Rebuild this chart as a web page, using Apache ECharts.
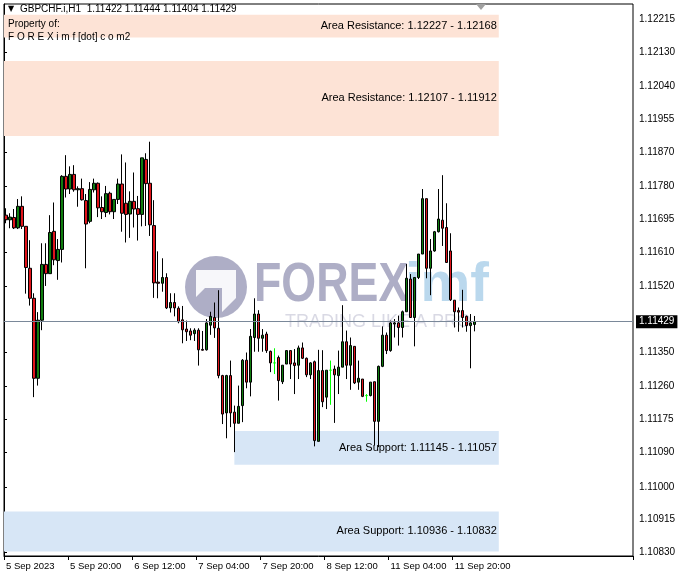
<!DOCTYPE html>
<html>
<head>
<meta charset="utf-8">
<script src="https://cdn.jsdelivr.net/npm/echarts@6/dist/echarts.min.js"></script>
<style>html,body{margin:0;padding:0;background:#fff}#chart{width:681px;height:579px}</style>
</head>
<body>
<div id="chart"></div>
<script>
// ---- data (GBPCHF H1, from 5 Sep 2023 04:00) ----
const opens = [1.11706,1.11694,1.11700,1.11673,1.11729,1.11677,1.11568,1.11490,1.11282,1.11433,
1.11578,1.11554,1.11664,1.11588,1.11617,1.11807,1.11774,1.11812,1.11772,1.11775,
1.11744,1.11690,1.11772,1.11789,1.11726,1.11713,1.11763,1.11715,1.11747,1.11787,
1.11737,1.11709,1.11742,1.11723,1.11708,1.11851,1.11789,1.11679,1.11532,1.11529,
1.11544,1.11465,1.11479,1.11464,1.11434,1.11410,1.11405,1.11398,1.11407,1.11357,
1.11356,1.11420,1.11440,1.11412,1.11289,1.11192,1.11289,1.11194,1.11165,1.11211,
1.11329,1.11272,1.11388,1.11449,1.11386,1.11397,1.11352,1.11322,1.11336,1.11273,
1.11319,1.11354,1.11322,1.11316,1.11361,1.11334,1.11291,1.11325,1.11118,1.11302,
1.11233,1.11303,1.11306,1.11289,1.11311,1.11377,1.11316,1.11365,1.11272,1.11280,
1.11237,1.11237,1.11273,1.11170,1.11313,1.11394,1.11354,1.11423,1.11426,1.11414,
1.11455,1.11540,1.11440,1.11544,1.11605,1.11749,1.11568,1.11613,1.11663,1.11693,
1.11674,1.11613,1.11485,1.11458,1.11458,1.11443,1.11419,1.11422];
const closes = [1.11694,1.11701,1.11673,1.11729,1.11677,1.11570,1.11490,1.11282,1.11433,1.11578,
1.11554,1.11661,1.11590,1.11617,1.11807,1.11774,1.11812,1.11772,1.11775,1.11746,
1.11683,1.11773,1.11789,1.11725,1.11715,1.11762,1.11715,1.11747,1.11787,1.11711,
1.11708,1.11742,1.11722,1.11708,1.11855,1.11788,1.11681,1.11530,1.11529,1.11544,
1.11465,1.11479,1.11465,1.11429,1.11408,1.11403,1.11394,1.11407,1.11356,1.11355,
1.11426,1.11443,1.11413,1.11289,1.11189,1.11289,1.11192,1.11165,1.11209,1.11329,
1.11272,1.11391,1.11449,1.11386,1.11394,1.11354,1.11322,1.11322,1.11276,1.11316,
1.11354,1.11319,1.11315,1.11361,1.11334,1.11291,1.11322,1.11120,1.11302,1.11221,
1.11303,1.11303,1.11291,1.11311,1.11377,1.11316,1.11367,1.11270,1.11282,1.11235,
1.11237,1.11272,1.11170,1.11313,1.11394,1.11354,1.11426,1.11426,1.11414,1.11455,
1.11542,1.11440,1.11544,1.11605,1.11749,1.11568,1.11613,1.11663,1.11696,1.11672,
1.11583,1.11486,1.11455,1.11454,1.11440,1.11419,1.11426,1.11429];
const lows = [1.11685,1.11672,1.11670,1.11670,1.11670,1.11502,1.11471,1.11233,1.11263,1.11407,
1.11522,1.11554,1.11576,1.11538,1.11583,1.11752,1.11761,1.11767,1.11728,1.11744,
1.11568,1.11685,1.11765,1.11701,1.11696,1.11701,1.11708,1.11696,1.11735,1.11663,
1.11635,1.11647,1.11674,1.11640,1.11677,1.11678,1.11652,1.11491,1.11490,1.11507,
1.11462,1.11453,1.11443,1.11425,1.11373,1.11379,1.11381,1.11379,1.11315,1.11354,
1.11354,1.11395,1.11387,1.11282,1.11163,1.11126,1.11155,1.11090,1.11165,1.11168,
1.11256,1.11235,1.11351,1.11351,1.11351,1.11348,1.11298,1.11293,1.11224,1.11267,
1.11319,1.11280,1.11241,1.11280,1.11332,1.11285,1.11280,1.11105,1.11118,1.11207,
1.11202,1.11213,1.11166,1.11241,1.11311,1.11280,1.11252,1.11267,1.11252,1.11233,
1.11221,1.11235,1.11107,1.11103,1.11311,1.11345,1.11351,1.11388,1.11367,1.11388,
1.11455,1.11440,1.11365,1.11540,1.11605,1.11542,1.11498,1.11611,1.11661,1.11626,
1.11583,1.11483,1.11414,1.11403,1.11414,1.11403,1.11308,1.11404];
const highs = [1.11724,1.11711,1.11722,1.11748,1.11755,1.11677,1.11641,1.11503,1.11454,1.11633,
1.11633,1.11706,1.11739,1.11644,1.11810,1.11862,1.11833,1.11836,1.11781,1.11801,
1.11761,1.11792,1.11801,1.11791,1.11755,1.11782,1.11767,1.11747,1.11801,1.11864,
1.11843,1.11768,1.11817,1.11756,1.11855,1.11867,1.11897,1.11745,1.11612,1.11594,
1.11555,1.11503,1.11503,1.11469,1.11470,1.11432,1.11412,1.11412,1.11412,1.11405,
1.11436,1.11455,1.11479,1.11511,1.11291,1.11291,1.11328,1.11211,1.11263,1.11332,
1.11349,1.11410,1.11490,1.11459,1.11410,1.11403,1.11354,1.11360,1.11341,1.11316,
1.11355,1.11354,1.11358,1.11367,1.11375,1.11336,1.11324,1.11328,1.11356,1.11355,
1.11303,1.11328,1.11315,1.11354,1.11472,1.11406,1.11388,1.11365,1.11328,1.11280,
1.11241,1.11272,1.11273,1.11315,1.11417,1.11401,1.11432,1.11436,1.11445,1.11458,
1.11579,1.11553,1.11544,1.11605,1.11774,1.11749,1.11644,1.11665,1.11774,1.11810,
1.11737,1.11659,1.11485,1.11466,1.11512,1.11445,1.11449,1.11444];

const xTickLabels = ['5 Sep 2023','5 Sep 20:00','6 Sep 12:00','7 Sep 04:00','7 Sep 20:00','8 Sep 12:00','11 Sep 04:00','11 Sep 20:00'];
const yTickLabels = [1.10830,1.10915,1.11000,1.11090,1.11175,1.11260,1.11350,1.11520,1.11610,1.11695,1.11780,1.11870,1.11955,1.12040,1.12130,1.12215];
const currentPrice = 1.11429;
const resistanceZones = [[1.12227,1.12168],[1.12107,1.11912]];
const supportZones = [[1.11145,1.11057],[1.10936,1.10832]];
const zoneStartBar = [0, 0, 57.5, 0]; // bar index where each zone begins (res1,res2,sup1,sup2)
const zoneEndBar = 123.5;
const totalSlots = 157;
const labelEvery = 16;

// ---- build categories (hourly bars, weekend skipped) ----
const months = ['Jan','Feb','Mar','Apr','May','Jun','Jul','Aug','Sep','Oct','Nov','Dec'];
const categories = [];
let t = Date.UTC(2023, 8, 5, 4);
for (let i = 0; i < totalSlots; i++) {
  const d = new Date(t);
  const hh = String(d.getUTCHours()).padStart(2,'0');
  categories.push(d.getUTCDate() + ' ' + months[d.getUTCMonth()] + ' ' + hh + ':00');
  t += 3600000;
  let nd = new Date(t);
  while (nd.getUTCDay() === 6 || nd.getUTCDay() === 0) { t += 3600000; nd = new Date(t); }
}

const candleData = opens.map((o, i) => {
  const item = { value: [o, closes[i], lows[i], highs[i]] };
  if (o === closes[i]) item.itemStyle = { color: '#00ff00', color0: '#00ff00', borderColor: '#00ff00', borderColor0: '#00ff00' };
  return item;
});

const font = 'Liberation Sans';
const zoneLabel = (name, a, b) => name + ': ' + a.toFixed(5) + ' - ' + b.toFixed(5);
const areaItems = [];
resistanceZones.forEach((z, k) => areaItems.push([
  { xAxis: zoneStartBar[k], yAxis: z[0], itemStyle: { color: '#fde3d6' }, name: zoneLabel('Area Resistance', z[0], z[1]) },
  { xAxis: zoneEndBar, yAxis: z[1] }
]));
supportZones.forEach((z, k) => areaItems.push([
  { xAxis: zoneStartBar[2 + k], yAxis: z[0], itemStyle: { color: '#d7e6f6' }, name: zoneLabel('Area Support', z[0], z[1]) },
  { xAxis: zoneEndBar, yAxis: z[1] }
]));

const chart = echarts.init(document.getElementById('chart'), null, { renderer: 'canvas' });
chart.setOption({
  animation: false,
  backgroundColor: '#ffffff',
  grid: { left: 4, right: 48, top: 4, bottom: 23, show: true, borderColor: '#000', borderWidth: 1, backgroundColor: 'transparent' },
  xAxis: [{
    type: 'category', data: categories, boundaryGap: true,
    axisLine: { lineStyle: { color: '#000' } },
    axisTick: { show: true, length: 4, lineStyle: { color: '#000' }, interval: (i) => i % labelEvery === 0 && i / labelEvery < xTickLabels.length },
    axisLabel: {
      interval: (i) => i % labelEvery === 0 && i / labelEvery < xTickLabels.length,
      formatter: (v, i) => xTickLabels[i / labelEvery] || '',
      align: 'left', color: '#000', fontFamily: font, fontSize: 9.5, margin: 5
    },
    splitLine: { show: false }
  }, {
    type: 'value', min: 0, max: totalSlots, show: false
  }],
  yAxis: {
    type: 'value', position: 'right', scale: true, min: 1.10820, max: 1.12255,
    axisLine: { show: true, lineStyle: { color: '#000' } },
    axisTick: { show: true, length: 3, lineStyle: { color: '#000' }, customValues: yTickLabels },
    axisLabel: { customValues: yTickLabels, formatter: (v) => v.toFixed(5), color: '#000', fontFamily: font, fontSize: 10, margin: 6 },
    splitLine: { show: false }
  },
  series: [{
    type: 'line', xAxisIndex: 1, data: [], silent: true, z: 1,
    markArea: {
      silent: true,
      label: { show: true, position: 'insideRight', color: '#000', fontFamily: font, fontSize: 11, distance: 2 },
      data: areaItems
    },
    markLine: {
      silent: true, symbol: 'none', precision: 5,
      lineStyle: { color: '#7a8899', width: 1, type: 'solid' },
      label: { show: true, position: 'end', formatter: currentPrice.toFixed(5), backgroundColor: '#000', color: '#fff', fontFamily: font, fontSize: 10, padding: [2, 3, 1, 3], distance: 3 },
      data: [{ yAxis: currentPrice }]
    }
  }, {
    type: 'candlestick', xAxisIndex: 0, data: candleData, barWidth: 3, z: 3,
    itemStyle: { color: '#0f7d0f', color0: '#e0141b', borderColor: '#000', borderColor0: '#000', borderWidth: 1 }
  }],
  graphic: [
    { type: 'text', left: 8, top: 5, z: 10, style: { text: '▼', font: '8px "DejaVu Sans"', fill: '#000' } },
    { type: 'text', left: 20, top: 4, z: 10, style: { text: 'GBPCHF.i,H1  1.11422 1.11444 1.11404 1.11429', font: '10px "Liberation Sans"', fill: '#000' } },
    { type: 'text', left: 8, top: 19, z: 10, style: { text: 'Property of:', font: '10px "Liberation Sans"', fill: '#000' } },
    { type: 'text', left: 8, top: 32, z: 10, style: { text: 'F O R E X i m f [dot] c o m2', font: '10px "Liberation Sans"', fill: '#000' } },
    { type: 'polygon', z: 10, shape: { points: [[476, 4], [486, 4], [481, 10]] }, style: { fill: '#a0a0a0' } },
    // watermark
    { type: 'circle', z: 0, shape: { cx: 216, cy: 287, r: 31 }, style: { fill: 'rgba(120,120,160,0.6)' } },
    { type: 'polygon', z: 0, shape: { points: [[196, 270], [236, 270], [236, 298], [222, 312], [222, 288], [205, 288], [196, 297]] }, style: { fill: 'rgba(255,255,255,0.9)' } },
    { type: 'text', z: 0, left: 254, top: 258, style: { text: 'FOREX', font: 'bold 56px "Liberation Sans"', fill: 'rgba(120,120,160,0.6)' }, scaleX: 0.8 },
    { type: 'text', z: 0, left: 405, top: 258, style: { text: 'imf', font: 'bold 56px "Liberation Sans"', fill: 'rgba(140,190,225,0.6)' } },
    { type: 'text', z: 0, left: 285, top: 313, style: { text: 'TRADING LIKE A PRO', font: '18px "Liberation Sans"', fill: 'rgba(170,170,195,0.45)' } }
  ]
});
</script>
</body>
</html>
